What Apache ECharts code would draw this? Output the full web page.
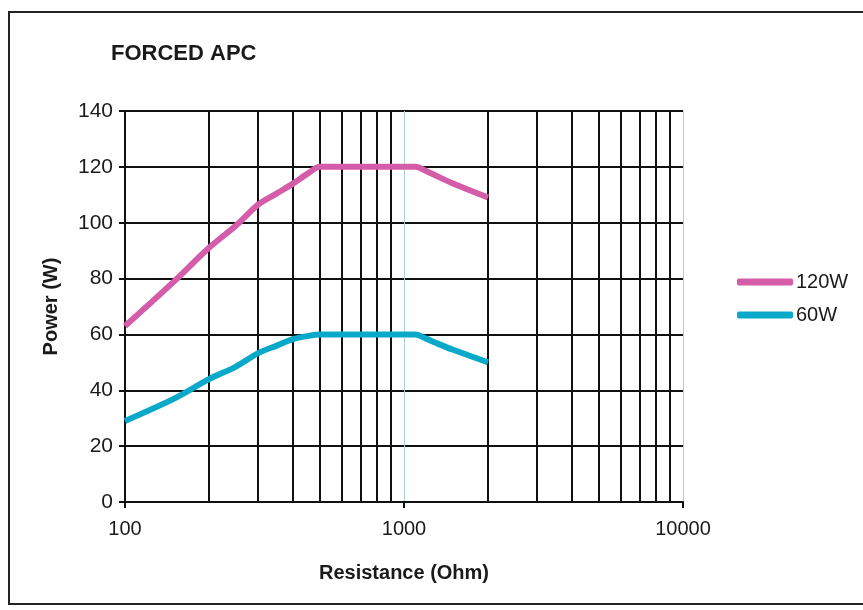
<!DOCTYPE html>
<html>
<head>
<meta charset="utf-8">
<script src="https://cdn.jsdelivr.net/npm/echarts@6/dist/echarts.min.js"></script>
<style>
  html, body { margin: 0; padding: 0; background: #fff; }
  #chart { width: 863px; height: 610px; }
</style>
</head>
<body>
<div id="chart"></div>
<script>
// resistance (Ohm) and power (W)
var res120 = [100, 150, 200, 250, 300, 350, 400, 450, 500, 700, 1000, 1100, 1200, 1500, 2000];
var pow120 = [63, 79, 91, 99, 106.5, 110.5, 114, 117.5, 120, 120, 120, 120, 118.5, 114, 109];
var res60 = [100, 150, 200, 250, 300, 350, 400, 450, 500, 700, 1000, 1100, 1200, 1300, 1500, 2000];
var pow60 = [29, 37, 44, 48.5, 53.3, 56, 58.3, 59.4, 60, 60, 60, 60, 58.5, 57, 54.5, 50];
var minorGrid = [200, 300, 400, 500, 600, 700, 800, 900, 2000, 3000, 4000, 5000, 6000, 7000, 8000, 9000];

var font = "Liberation Sans";

function pairs(xs, ys) {
  return xs.map(function (x, i) { return [x, ys[i]]; });
}

var myChart = echarts.init(document.getElementById("chart"));
myChart.setOption({
  animation: false,
  textStyle: { fontFamily: font, color: "#1a1a1a" },
  title: {
    text: "FORCED APC",
    left: 106,
    top: 38,
    textStyle: { fontFamily: font, fontSize: 22, fontWeight: "bold", color: "#1a1a1a" },
  },
  graphic: [
    {
      type: "rect",
      shape: { x: 9, y: 12, width: 870, height: 592 },
      style: { fill: "none", stroke: "#222", lineWidth: 2 },
      silent: true,
    },
  ],
  legend: {
    orient: "vertical",
    left: 732,
    top: 267,
    itemWidth: 56,
    itemHeight: 7,
    itemGap: 13,
    icon: "roundRect",
    textStyle: { fontFamily: font, fontSize: 20, color: "#1a1a1a", padding: [0, 0, 0, -2] },
    data: ["120W", "60W"],
  },
  grid: { left: 125, right: 180, top: 111, bottom: 108 },
  xAxis: {
    type: "log",
    logBase: 10,
    min: 100,
    max: 10000,
    name: "Resistance (Ohm)",
    nameLocation: "middle",
    nameGap: 61,
    nameTextStyle: { fontFamily: font, fontSize: 20, fontWeight: "bold", color: "#1a1a1a" },
    axisLine: { show: true, lineStyle: { color: "#111", width: 2 } },
    axisTick: { show: true, length: 6, lineStyle: { color: "#111", width: 2 } },
    axisLabel: {
      fontFamily: font, fontSize: 20, color: "#1a1a1a", margin: 17,
      formatter: function (v) { return String(Math.round(v)); },
    },
    splitLine: { show: true, lineStyle: { color: "#a9cfe2", width: 1 } },
    minorTick: { show: false },
    minorSplitLine: { show: false },
  },
  yAxis: {
    type: "value",
    min: 0,
    max: 140,
    interval: 20,
    name: "Power (W)",
    nameLocation: "middle",
    nameGap: 64,
    nameTextStyle: { fontFamily: font, fontSize: 20, fontWeight: "bold", color: "#1a1a1a" },
    axisLine: { show: true, lineStyle: { color: "#111", width: 2 } },
    axisTick: { show: true, length: 6, lineStyle: { color: "#111", width: 2 } },
    axisLabel: { fontFamily: font, fontSize: 21, color: "#1a1a1a", margin: 12 },
    splitLine: { show: true, lineStyle: { color: "#111", width: 2 } },
  },
  series: [
    {
      name: "120W",
      type: "line",
      data: pairs(res120, pow120),
      showSymbol: false,
      smooth: 0.3,
      color: "#d45ca8",
      lineStyle: { width: 6, color: "#d45ca8" },
      z: 3,
      markLine: {
        silent: true,
        z: 1,
        symbol: "none",
        label: { show: false },
        lineStyle: { color: "#111", width: 2, type: "solid" },
        data: minorGrid.map(function (v) { return { xAxis: v }; }),
      },
    },
    {
      name: "60W",
      type: "line",
      data: pairs(res60, pow60),
      showSymbol: false,
      smooth: 0.3,
      color: "#0aa9c9",
      lineStyle: { width: 6, color: "#0aa9c9" },
      z: 3,
    },
  ],
});
</script>
</body>
</html>
